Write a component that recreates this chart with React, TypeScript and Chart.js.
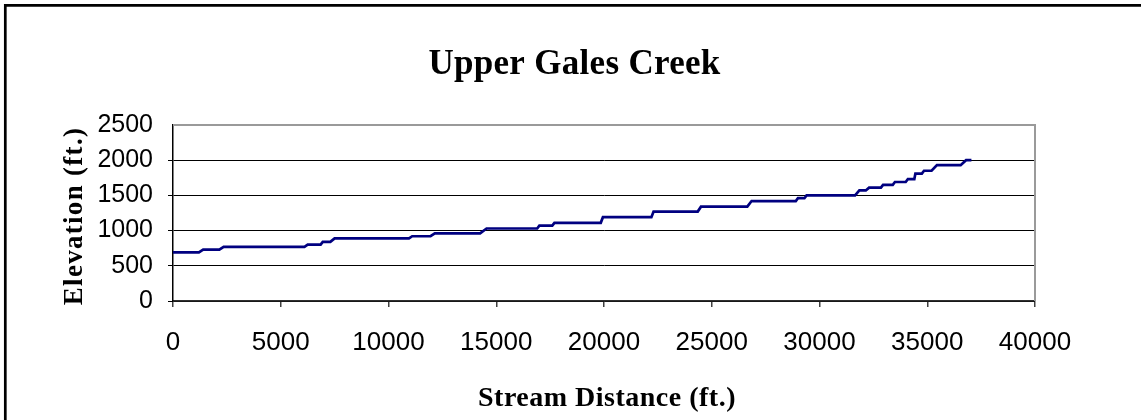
import React, { useEffect, useRef } from 'react';
import { Chart, registerables } from 'chart.js';

Chart.register(...registerables);

// ---- text ----
const TITLE = 'Upper Gales Creek';
const X_TITLE = 'Stream Distance (ft.)';
const Y_TITLE = 'Elevation (ft.)';

// ---- axes ----
const X_MIN = 0;
const X_MAX = 40000;
const X_STEP = 5000;
const Y_MIN = 0;
const Y_MAX = 2500;
const Y_STEP = 500;

// ---- series: stream profile (distance ft, elevation ft) ----
const distances = [
  0, 1200, 1400, 2150, 2350, 6100, 6250, 6850, 6950, 7300, 7500, 10950, 11100,
  11950, 12150, 14250, 14550, 16900, 17000, 17600, 17700, 19850, 19950, 22200,
  22300, 24350, 24500, 26650, 26850, 28900, 29000, 29300, 29400, 31650, 31850,
  32150, 32300, 32850, 32950, 33400, 33500, 34000, 34100, 34400, 34450, 34750,
  34850, 35200, 35450, 36550, 36800, 37050,
];
const elevations = [
  690, 690, 730, 730, 770, 770, 800, 800, 840, 840, 890, 890, 920,
  920, 960, 960, 1030, 1030, 1070, 1070, 1110, 1110, 1190, 1190,
  1270, 1270, 1340, 1340, 1420, 1420, 1460, 1460, 1500, 1500, 1570,
  1570, 1610, 1610, 1650, 1650, 1690, 1690, 1730, 1730, 1810, 1810,
  1850, 1850, 1930, 1930, 2000, 2000,
];

const SERIF = '"Liberation Serif", "Times New Roman", Times, serif';
const SANS = '"Liberation Sans", Arial, Helvetica, sans-serif';

const decorPlugin = {
  id: 'decor',
  beforeDraw(chart: any) {
    const { ctx } = chart;
    ctx.save();
    ctx.strokeStyle = '#000';
    ctx.lineWidth = 2.7;
    ctx.beginPath();
    ctx.moveTo(5.3, chart.height + 5);
    ctx.lineTo(5.3, 5.3);
    ctx.lineTo(chart.width + 5, 5.3);
    ctx.stroke();
    ctx.restore();
  },
  beforeDatasetsDraw(chart: any) {
    const { ctx, chartArea: a } = chart;
    ctx.save();
    ctx.strokeStyle = '#9a9a9a';
    ctx.lineWidth = 2;
    ctx.beginPath();
    ctx.moveTo(a.left, a.top);
    ctx.lineTo(a.right, a.top);
    ctx.lineTo(a.right, a.bottom);
    ctx.stroke();
    ctx.restore();
  },
  afterDraw(chart: any) {
    const { ctx, chartArea: a } = chart;
    ctx.save();
    ctx.fillStyle = '#000';
    ctx.textAlign = 'center';
    ctx.textBaseline = 'alphabetic';
    // main title
    ctx.font = `bold 35px ${SERIF}`;
    ctx.letterSpacing = '0.3px';
    ctx.fillText(TITLE, chart.width / 2 + 4, 74);
    // x title
    ctx.font = `bold 28px ${SERIF}`;
    ctx.letterSpacing = '0.5px';
    ctx.fillText(X_TITLE, (a.left + a.right) / 2 + 3, 406);
    // y title
    ctx.font = `bold 27px ${SERIF}`;
    ctx.letterSpacing = '1.3px';
    ctx.translate(82, (a.top + a.bottom) / 2 + 3);
    ctx.rotate(-Math.PI / 2);
    ctx.fillText(Y_TITLE, 0, 0);
    ctx.restore();
  },
};

const plain = (v: any) => String(v);

export default function App() {
  const ref = useRef<HTMLCanvasElement | null>(null);

  useEffect(() => {
    if (!ref.current) return;
    const points = distances.map((d, i) => ({ x: d, y: elevations[i] }));
    const chart = new Chart(ref.current, {
      type: 'line',
      data: {
        datasets: [
          {
            label: 'Elevation',
            data: points,
            borderColor: '#000080',
            backgroundColor: '#000080',
            borderWidth: 2.7,
            pointRadius: 0,
            tension: 0,
            fill: false,
          },
        ],
      },
      options: {
        responsive: false,
        animation: false,
        events: [],
        layout: { padding: { top: 125, right: 106, left: 0, bottom: 0 } },
        plugins: {
          legend: { display: false },
          title: { display: false },
          tooltip: { enabled: false },
        },
        scales: {
          x: {
            type: 'linear',
            min: X_MIN,
            max: X_MAX,
            afterFit: (s: any) => {
              s.height = 119;
            },
            ticks: {
              stepSize: X_STEP,
              autoSkip: false,
              maxRotation: 0,
              padding: 20,
              color: '#000',
              font: { family: SANS, size: 26 },
              callback: plain,
            },
            grid: {
              drawOnChartArea: false,
              drawTicks: true,
              tickLength: 6,
              color: '#404040',
              lineWidth: 1.5,
            },
            border: { display: true, color: '#303030', width: 1.5 },
          },
          y: {
            type: 'linear',
            min: Y_MIN,
            max: Y_MAX,
            afterFit: (s: any) => {
              s.width = 173;
            },
            ticks: {
              stepSize: Y_STEP,
              autoSkip: false,
              padding: 15,
              color: '#000',
              font: { family: SANS, size: 25 },
              callback: plain,
            },
            grid: {
              drawTicks: true,
              tickLength: 5,
              color: (c: any) => (c.tick && c.tick.value === Y_MAX ? 'rgba(0,0,0,0)' : '#000'),
              lineWidth: 1,
            },
            border: { display: true, color: '#000', width: 1.5 },
          },
        },
      },
      plugins: [decorPlugin],
    });
    return () => chart.destroy();
  }, []);

  return (
    <div style={{ position: 'fixed', left: 0, top: 0, width: 1141, height: 420, background: '#fff' }}>
      <canvas ref={ref} width={1141} height={420} style={{ display: 'block' }} />
    </div>
  );
}
